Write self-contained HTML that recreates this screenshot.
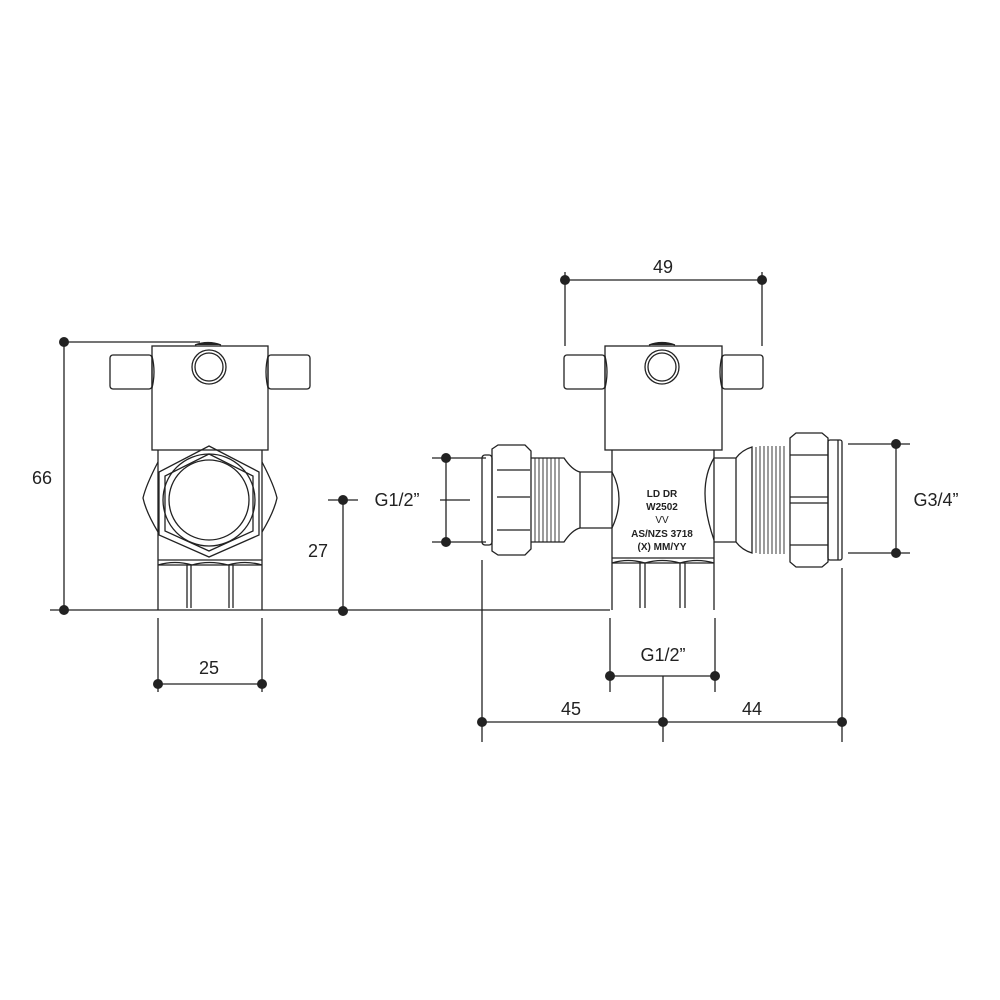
<!DOCTYPE html>
<html><head><meta charset="utf-8"><style>
html,body{margin:0;padding:0;background:#fff}
svg{display:block}
text{font-family:"Liberation Sans",sans-serif;fill:#222}
</style></head><body>
<svg width="1000" height="1000" viewBox="0 0 1000 1000" xmlns="http://www.w3.org/2000/svg">
<g stroke="#222" stroke-width="1.3" fill="none">
<line x1="64" y1="342" x2="200" y2="342"/>
<line x1="64" y1="342" x2="64" y2="610"/>
<line x1="50" y1="610" x2="610" y2="610"/>
<line x1="158" y1="618" x2="158" y2="692"/>
<line x1="262" y1="618" x2="262" y2="692"/>
<line x1="158" y1="684" x2="262" y2="684"/>
<line x1="343" y1="500" x2="343" y2="610"/>
<line x1="328" y1="500" x2="358" y2="500"/>
<path d="M195 345 Q208 340 221 345"/>
<rect x="152" y="346" width="116" height="104"/>
<rect x="110" y="355" width="42" height="34" rx="3"/>
<rect x="268" y="355" width="42" height="34" rx="3"/>
<path d="M152 356 Q156 372 152 388 M268 356 Q264 372 268 388"/>
<circle cx="209" cy="367" r="17"/><circle cx="209" cy="367" r="14"/>
<line x1="158" y1="450" x2="158" y2="610"/>
<line x1="262" y1="450" x2="262" y2="610"/>
<polygon points="209,446 259,472 259,535 209,557 159,535 159,472"/>
<polygon points="209,454 253,476 253,531 209,551 165,531 165,476"/>
<circle cx="209" cy="500" r="46"/><circle cx="209" cy="500" r="40"/>
<path d="M158 462 Q146 485 143 498 Q146 512 158 532"/>
<path d="M262 462 Q274 485 277 498 Q274 512 262 532"/>
<line x1="158" y1="560" x2="262" y2="560"/>
<line x1="158" y1="565" x2="262" y2="565"/>
<path d="M158 565 Q175 560 192 565 Q209 560 228 565 Q245 560 262 565"/>
<line x1="187" y1="565" x2="187" y2="608"/><line x1="191" y1="565" x2="191" y2="608"/>
<line x1="229" y1="565" x2="229" y2="608"/><line x1="233" y1="565" x2="233" y2="608"/>

<line x1="565" y1="272" x2="565" y2="346"/>
<line x1="762" y1="272" x2="762" y2="346"/>
<line x1="565" y1="280" x2="762" y2="280"/>
<line x1="432" y1="458" x2="486" y2="458"/>
<line x1="432" y1="542" x2="486" y2="542"/>
<line x1="446" y1="458" x2="446" y2="542"/>
<line x1="440" y1="500" x2="470" y2="500"/>
<line x1="848" y1="444" x2="910" y2="444"/>
<line x1="848" y1="553" x2="910" y2="553"/>
<line x1="896" y1="444" x2="896" y2="553"/>
<line x1="482" y1="560" x2="482" y2="742"/>
<line x1="842" y1="568" x2="842" y2="742"/>
<line x1="663" y1="676" x2="663" y2="742"/>
<line x1="482" y1="722" x2="842" y2="722"/>
<line x1="610" y1="618" x2="610" y2="692"/>
<line x1="715" y1="618" x2="715" y2="692"/>
<line x1="610" y1="676" x2="715" y2="676"/>
<path d="M649 345 Q662 340 675 345"/>
<rect x="605" y="346" width="117" height="104"/>
<rect x="564" y="355" width="41" height="34" rx="3"/>
<rect x="722" y="355" width="41" height="34" rx="3"/>
<path d="M605 356 Q609 372 605 388 M722 356 Q718 372 722 388"/>
<circle cx="662" cy="367" r="17"/><circle cx="662" cy="367" r="14"/>
<line x1="612" y1="450" x2="612" y2="610"/>
<line x1="714" y1="450" x2="714" y2="610"/>
<path d="M612 472 Q626 498 612 528"/>
<path d="M714 458 Q696 488 714 540"/>
<line x1="612" y1="558" x2="714" y2="558"/>
<line x1="612" y1="563" x2="714" y2="563"/>
<path d="M612 563 Q628 558 645 563 Q662 558 680 563 Q697 558 714 563"/>
<line x1="640" y1="563" x2="640" y2="608"/><line x1="645" y1="563" x2="645" y2="608"/>
<line x1="680" y1="563" x2="680" y2="608"/><line x1="685" y1="563" x2="685" y2="608"/>
<rect x="482" y="455" width="10" height="90" rx="3"/>
<path d="M492 449 L498 445 L525 445 L531 451 L531 549 L525 555 L498 555 L492 551 Z"/>
<line x1="497" y1="470" x2="530" y2="470"/><line x1="497" y1="530" x2="530" y2="530"/>
<line x1="497" y1="497" x2="530" y2="497"/>
<path d="M531 458 L564 458 Q572 470 580 472 L612 472 M531 542 L564 542 Q572 530 580 528 L612 528"/>
<line x1="580" y1="472" x2="580" y2="528"/>
<g stroke-width="0.9">
<line x1="535" y1="458" x2="535" y2="542"/><line x1="539" y1="458" x2="539" y2="542"/>
<line x1="543" y1="458" x2="543" y2="542"/><line x1="547" y1="458" x2="547" y2="542"/>
<line x1="551" y1="458" x2="551" y2="542"/><line x1="555" y1="458" x2="555" y2="542"/>
<line x1="559" y1="458" x2="559" y2="542"/>
</g>
<path d="M714 458 L736 458 Q742 450 752 447 L752 553 Q742 550 736 542 L714 542"/>
<line x1="736" y1="458" x2="736" y2="542"/>
<g stroke-width="0.9">
<line x1="756" y1="447" x2="756" y2="553"/><line x1="760" y1="446" x2="760" y2="554"/>
<line x1="764" y1="446" x2="764" y2="554"/><line x1="768" y1="446" x2="768" y2="554"/>
<line x1="772" y1="446" x2="772" y2="554"/><line x1="776" y1="446" x2="776" y2="554"/>
<line x1="780" y1="446" x2="780" y2="554"/><line x1="784" y1="446" x2="784" y2="554"/>
</g>
<path d="M790 438 L796 433 L822 433 L828 438 L828 562 L822 567 L796 567 L790 562 Z"/>
<line x1="790" y1="455" x2="828" y2="455"/><line x1="790" y1="545" x2="828" y2="545"/>
<line x1="790" y1="497" x2="828" y2="497"/><line x1="790" y1="503" x2="828" y2="503"/>
<rect x="828" y="440" width="14" height="120" rx="2"/>
<line x1="838" y1="440" x2="838" y2="560"/>
</g>
<g fill="#222">
<circle cx="64" cy="342" r="5"/><circle cx="64" cy="610" r="5"/>
<circle cx="158" cy="684" r="5"/><circle cx="262" cy="684" r="5"/>
<circle cx="343" cy="500" r="5"/><circle cx="343" cy="611" r="5"/>
<circle cx="446" cy="458" r="5"/><circle cx="446" cy="542" r="5"/>
<circle cx="896" cy="444" r="5"/><circle cx="896" cy="553" r="5"/>
<circle cx="565" cy="280" r="5"/><circle cx="762" cy="280" r="5"/>
<circle cx="610" cy="676" r="5"/><circle cx="715" cy="676" r="5"/>
<circle cx="482" cy="722" r="5"/><circle cx="663" cy="722" r="5"/><circle cx="842" cy="722" r="5"/>
<path d="M195 345 Q208 339 221 345 Z"/><path d="M649 345 Q662 339 675 345 Z"/>
</g>
<g font-size="18" text-anchor="middle">
<text x="42" y="484">66</text>
<text x="209" y="674">25</text>
<text x="318" y="557">27</text>
<text x="397" y="506">G1/2”</text>
<text x="936" y="506">G3/4”</text>
<text x="663" y="273">49</text>
<text x="663" y="661">G1/2”</text>
<text x="571" y="715">45</text>
<text x="752" y="715">44</text>
</g>
<g font-size="10" font-weight="bold" text-anchor="middle">
<text x="662" y="497">LD DR</text>
<text x="662" y="510">W2502</text>
<text x="662" y="523" font-weight="normal">VV</text>
<text x="662" y="537">AS/NZS 3718</text>
<text x="662" y="550">(X) MM/YY</text>
</g>
</svg>
</body></html>
